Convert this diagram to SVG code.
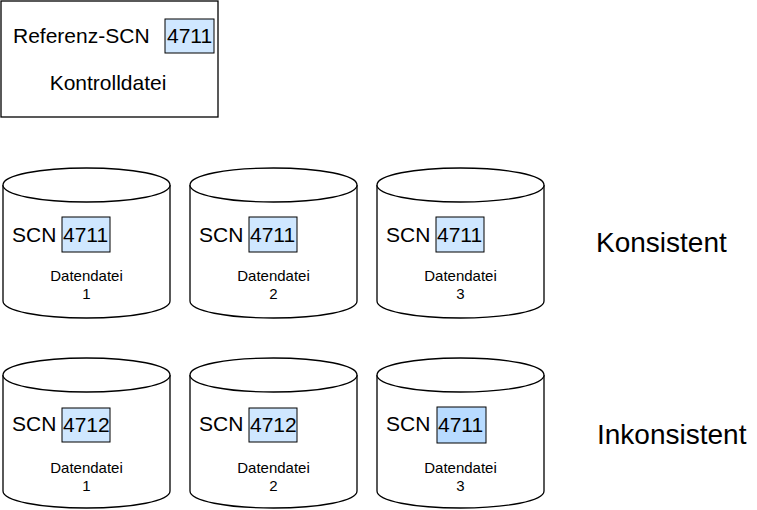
<svg xmlns="http://www.w3.org/2000/svg" width="757" height="510" viewBox="0 0 757 510">
<style>
text{font-family:"Liberation Sans",Arial,sans-serif;fill:#000}
.cyl{fill:#fff;stroke:#000;stroke-width:1.3}
.scnbox{fill:#cfe7ff;stroke:#000;stroke-width:1}
.scnbox2{fill:#b8dbff;stroke:#000;stroke-width:1}
.big{font-size:21px}
.small{font-size:15px;text-anchor:middle}
.label{font-size:28px}
</style>
<defs>
<g id="cyl">
<path class="cyl" d="M0,17 C0,7 37,0 83.5,0 C130,0 167,7 167,17 L167,133 C167,143 130,150 83.5,150 C37,150 0,143 0,133 Z"/>
<path class="cyl" fill="none" d="M0,17 C0,27 37,34 83.5,34 C130,34 167,27 167,17"/>
</g>
</defs>
<g id="kontrolldatei">
<rect x="1" y="1" width="217" height="116" fill="#fff" stroke="#000" stroke-width="1.3"/>
<text class="big" x="13" y="43">Referenz-SCN</text>
<rect class="scnbox" x="165" y="19" width="49" height="34"/>
<text class="big" x="167" y="43">4711</text>
<text x="108" y="90" font-size="21" text-anchor="middle">Kontrolldatei</text>
</g>
<g id="k1">
<use href="#cyl" x="3" y="168"/>
<text class="big" x="12" y="242">SCN</text>
<rect class="scnbox" x="62" y="217" width="48" height="35"/>
<text class="big" x="63" y="242">4711</text>
<text class="small" x="86.5" y="281">Datendatei</text>
<text class="small" x="86.5" y="299">1</text>
</g>
<g id="k2">
<use href="#cyl" x="190" y="168"/>
<text class="big" x="199" y="242">SCN</text>
<rect class="scnbox" x="249" y="217" width="48" height="35"/>
<text class="big" x="250" y="242">4711</text>
<text class="small" x="273.5" y="281">Datendatei</text>
<text class="small" x="273.5" y="299">2</text>
</g>
<g id="k3">
<use href="#cyl" x="377" y="168"/>
<text class="big" x="386" y="242">SCN</text>
<rect class="scnbox" x="436" y="217" width="48" height="35"/>
<text class="big" x="437" y="242">4711</text>
<text class="small" x="460.5" y="281">Datendatei</text>
<text class="small" x="460.5" y="299">3</text>
</g>
<g id="i1">
<use href="#cyl" x="3" y="358"/>
<text class="big" x="12" y="431">SCN</text>
<rect class="scnbox" x="62" y="408" width="48" height="34"/>
<text class="big" x="63" y="432">4712</text>
<text class="small" x="86.5" y="473">Datendatei</text>
<text class="small" x="86.5" y="491">1</text>
</g>
<g id="i2">
<use href="#cyl" x="190" y="358"/>
<text class="big" x="199" y="431">SCN</text>
<rect class="scnbox" x="249" y="408" width="48" height="34"/>
<text class="big" x="250" y="432">4712</text>
<text class="small" x="273.5" y="473">Datendatei</text>
<text class="small" x="273.5" y="491">2</text>
</g>
<g id="i3">
<use href="#cyl" x="377" y="358"/>
<text class="big" x="386" y="431">SCN</text>
<rect class="scnbox2" x="437" y="407" width="49" height="36"/>
<text class="big" x="438" y="432">4711</text>
<text class="small" x="460.5" y="473">Datendatei</text>
<text class="small" x="460.5" y="491">3</text>
</g>
<g id="labels">
<text class="label" x="596" y="252">Konsistent</text>
<text class="label" x="597" y="444">Inkonsistent</text>
</g>
<g id="connectors"></g>
</svg>
